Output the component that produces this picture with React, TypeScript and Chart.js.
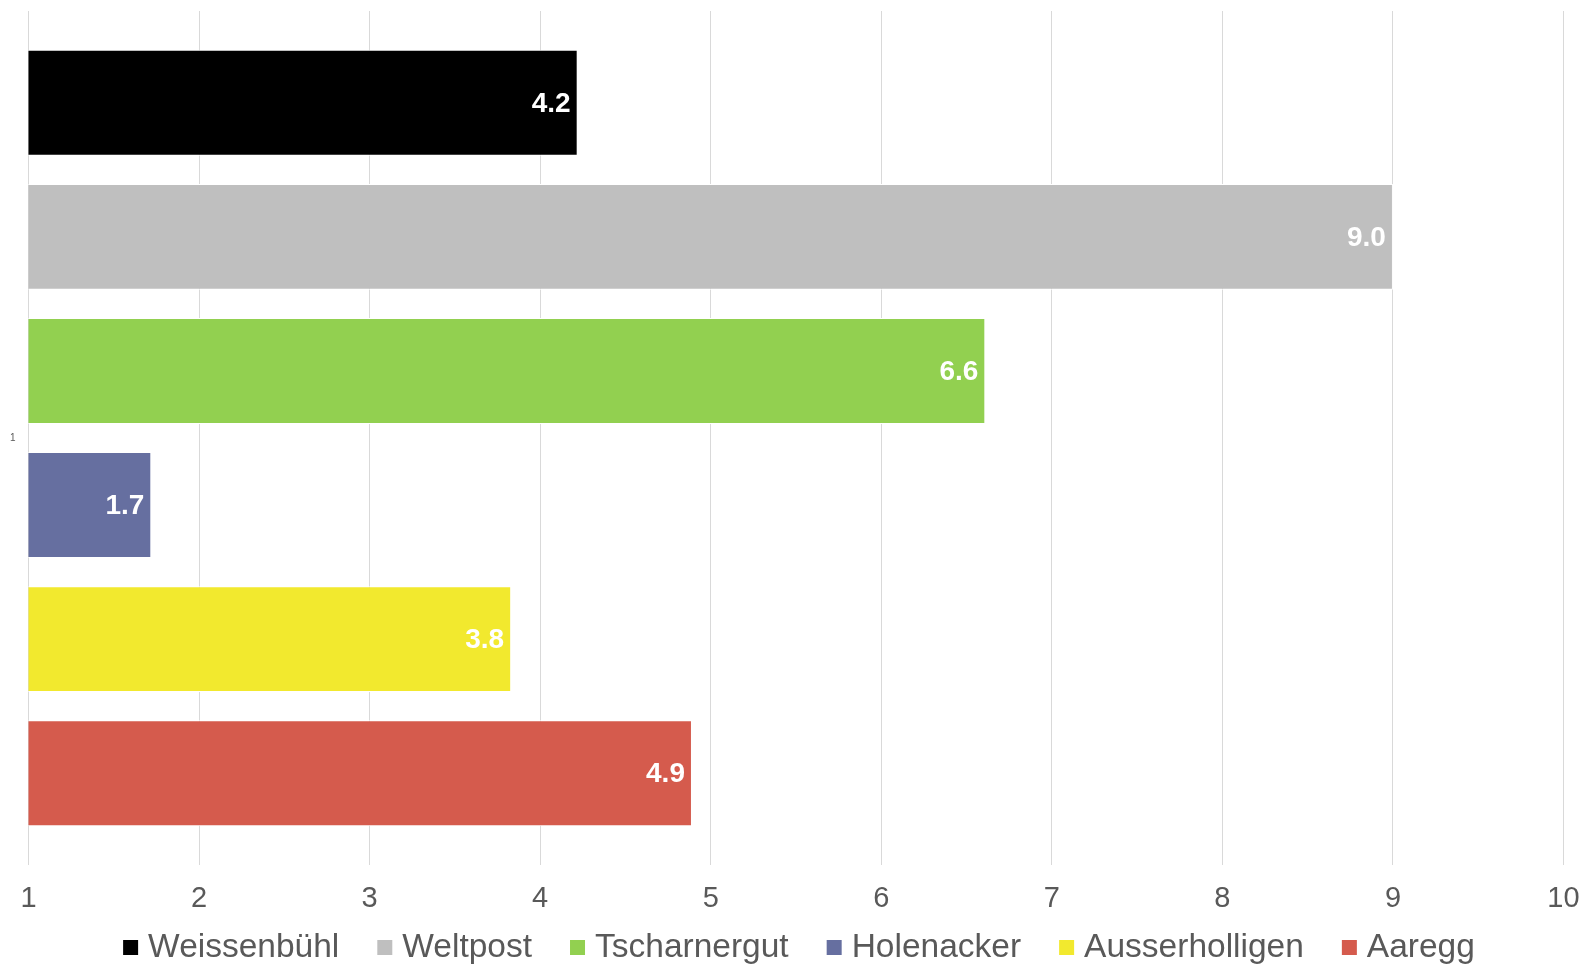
import React, { useEffect, useRef } from "react";
import { Chart, registerables } from "chart.js";

Chart.register(...registerables);

const categories = ["1"];
const seriesNames = ["Weissenbühl", "Weltpost", "Tscharnergut", "Holenacker", "Ausserholligen", "Aaregg"];
const seriesValues = [4.22, 9.0, 6.61, 1.72, 3.83, 4.89];
const seriesColors = ["#000000", "#bfbfbf", "#92d050", "#666fa0", "#f2e92e", "#d55b4d"];
const xTicks = [1, 2, 3, 4, 5, 6, 7, 8, 9, 10];

const FONT = "'Liberation Sans', Arial, sans-serif";

const valueLabelPlugin = {
  id: "valueLabels",
  afterDatasetsDraw(chart: any) {
    const ctx = chart.ctx;
    ctx.save();
    ctx.font = `bold 28px ${FONT}`;
    ctx.fillStyle = "#ffffff";
    ctx.textAlign = "right";
    ctx.textBaseline = "middle";
    chart.data.datasets.forEach((ds: any, i: number) => {
      const meta = chart.getDatasetMeta(i);
      meta.data.forEach((bar: any, j: number) => {
        const v = ds.data[j] as number;
        ctx.fillText(v.toFixed(1), bar.x - 7, bar.y + 1);
      });
    });
    ctx.restore();
  },
};

const legendPlugin = {
  id: "customLegend",
  afterDraw(chart: any) {
    const ctx = chart.ctx;
    const box = 15;
    const gapText = 10;
    const gapItem = 38;
    ctx.save();
    ctx.font = `33.5px ${FONT}`;
    const widths = chart.data.datasets.map((ds: any) => ctx.measureText(ds.label).width);
    let total = 0;
    widths.forEach((w: number, i: number) => {
      total += box + gapText + w + (i < widths.length - 1 ? gapItem : 0);
    });
    const area = chart.chartArea;
    let x = (area.left + area.right) / 2 - total / 2 + 3;
    const baseline = 957;
    ctx.textBaseline = "alphabetic";
    ctx.textAlign = "left";
    chart.data.datasets.forEach((ds: any, i: number) => {
      ctx.fillStyle = ds.backgroundColor;
      ctx.fillRect(x, 940, box, box);
      x += box + gapText;
      ctx.fillStyle = "#595959";
      ctx.fillText(ds.label, x, baseline);
      x += widths[i] + gapItem;
    });
    ctx.restore();
  },
};

export default function App() {
  const ref = useRef<HTMLCanvasElement | null>(null);

  useEffect(() => {
    document.body.style.margin = "0";
    const canvas = ref.current;
    if (!canvas) return;
    const chart = new Chart(canvas, {
      type: "bar",
      data: {
        labels: categories,
        datasets: seriesNames.map((name, i) => ({
          label: name,
          data: [seriesValues[i]],
          backgroundColor: seriesColors[i],
          borderColor: "#ffffff",
          borderWidth: 1,
          categoryPercentage: 0.942,
          barPercentage: 0.79,
        })),
      },
      options: {
        indexAxis: "y",
        animation: false,
        responsive: false,
        maintainAspectRatio: false,
        layout: { padding: { top: 11, right: 21.5, bottom: 0, left: 0 } },
        plugins: {
          legend: { display: false },
          tooltip: { enabled: false },
        },
        scales: {
          x: {
            type: "linear",
            min: 1,
            max: 10,
            afterBuildTicks: (scale: any) => {
              scale.ticks = xTicks.map((v) => ({ value: v }));
            },
            afterFit: (scale: any) => {
              scale.height = 102;
              scale.paddingLeft = 0;
              scale.paddingRight = 0;
              scale.paddingTop = 0;
              scale.paddingBottom = 0;
            },
            grid: { color: "#d9d9d9", lineWidth: 1, drawTicks: false },
            border: { display: false },
            ticks: {
              padding: 17,
              color: "#595959",
              font: { family: FONT, size: 29 },
              maxRotation: 0,
            },
          },
          y: {
            type: "category",
            afterFit: (scale: any) => {
              scale.width = 28.5;
              scale.paddingLeft = 0;
              scale.paddingRight = 0;
              scale.paddingTop = 0;
              scale.paddingBottom = 0;
            },
            grid: { display: false, drawTicks: false },
            border: { display: false },
            ticks: {
              padding: 13,
              color: "#595959",
              font: { family: FONT, size: 10 },
            },
          },
        },
      },
      plugins: [valueLabelPlugin, legendPlugin],
    } as any);
    return () => chart.destroy();
  }, []);

  return (
    <div style={{ width: 1585, height: 967, position: "relative", background: "#ffffff" }}>
      <canvas ref={ref} width={1585} height={967} style={{ display: "block", width: 1585, height: 967 }} />
    </div>
  );
}
